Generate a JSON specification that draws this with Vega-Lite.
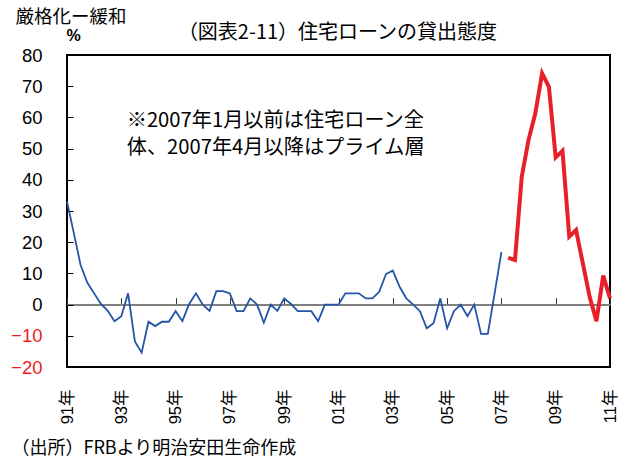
{
  "$schema": "https://vega.github.io/schema/vega-lite/v6.json",
  "autosize": "none",
  "width": 543,
  "height": 312,
  "padding": {"left": 67, "top": 55, "right": 17, "bottom": 90},
  "background": "white",
  "config": {
    "view": {"stroke": "#000000", "strokeWidth": 2},
    "font": "Noto Sans CJK JP"
  },
  "title": {
    "text": "（図表2-11）住宅ローンの貸出態度",
    "font": "Noto Sans CJK JP",
    "fontSize": 20,
    "fontWeight": "normal",
    "color": "#000000",
    "anchor": "middle",
    "frame": "group",
    "baseline": "bottom",
    "offset": 8,
    "dx": -1,
    "dy": 64
  },
  "data": {
    "values": [
      {"t": 1991.00, "v": 33.0, "s": "all"},
      {"t": 1991.25, "v": 23.0, "s": "all"},
      {"t": 1991.50, "v": 12.7, "s": "all"},
      {"t": 1991.75, "v": 7.0, "s": "all"},
      {"t": 1992.00, "v": 3.6, "s": "all"},
      {"t": 1992.25, "v": 0.2, "s": "all"},
      {"t": 1992.50, "v": -2.0, "s": "all"},
      {"t": 1992.75, "v": -5.3, "s": "all"},
      {"t": 1993.00, "v": -3.7, "s": "all"},
      {"t": 1993.25, "v": 3.6, "s": "all"},
      {"t": 1993.50, "v": -11.8, "s": "all"},
      {"t": 1993.75, "v": -15.4, "s": "all"},
      {"t": 1994.00, "v": -5.5, "s": "all"},
      {"t": 1994.25, "v": -6.9, "s": "all"},
      {"t": 1994.50, "v": -5.5, "s": "all"},
      {"t": 1994.75, "v": -5.5, "s": "all"},
      {"t": 1995.00, "v": -2.1, "s": "all"},
      {"t": 1995.25, "v": -5.3, "s": "all"},
      {"t": 1995.50, "v": 0.2, "s": "all"},
      {"t": 1995.75, "v": 3.6, "s": "all"},
      {"t": 1996.00, "v": 0.0, "s": "all"},
      {"t": 1996.25, "v": -2.0, "s": "all"},
      {"t": 1996.50, "v": 4.3, "s": "all"},
      {"t": 1996.75, "v": 4.3, "s": "all"},
      {"t": 1997.00, "v": 3.6, "s": "all"},
      {"t": 1997.25, "v": -2.1, "s": "all"},
      {"t": 1997.50, "v": -2.1, "s": "all"},
      {"t": 1997.75, "v": 2.0, "s": "all"},
      {"t": 1998.00, "v": 0.0, "s": "all"},
      {"t": 1998.25, "v": -5.8, "s": "all"},
      {"t": 1998.50, "v": 0.0, "s": "all"},
      {"t": 1998.75, "v": -2.0, "s": "all"},
      {"t": 1999.00, "v": 2.0, "s": "all"},
      {"t": 1999.25, "v": 0.2, "s": "all"},
      {"t": 1999.50, "v": -2.1, "s": "all"},
      {"t": 1999.75, "v": -2.1, "s": "all"},
      {"t": 2000.00, "v": -2.1, "s": "all"},
      {"t": 2000.25, "v": -5.3, "s": "all"},
      {"t": 2000.50, "v": 0.0, "s": "all"},
      {"t": 2000.75, "v": 0.0, "s": "all"},
      {"t": 2001.00, "v": 0.0, "s": "all"},
      {"t": 2001.25, "v": 3.6, "s": "all"},
      {"t": 2001.50, "v": 3.6, "s": "all"},
      {"t": 2001.75, "v": 3.6, "s": "all"},
      {"t": 2002.00, "v": 2.0, "s": "all"},
      {"t": 2002.25, "v": 2.0, "s": "all"},
      {"t": 2002.50, "v": 4.1, "s": "all"},
      {"t": 2002.75, "v": 9.8, "s": "all"},
      {"t": 2003.00, "v": 10.9, "s": "all"},
      {"t": 2003.25, "v": 5.7, "s": "all"},
      {"t": 2003.50, "v": 2.0, "s": "all"},
      {"t": 2003.75, "v": 0.0, "s": "all"},
      {"t": 2004.00, "v": -2.1, "s": "all"},
      {"t": 2004.25, "v": -7.6, "s": "all"},
      {"t": 2004.50, "v": -6.0, "s": "all"},
      {"t": 2004.75, "v": 2.0, "s": "all"},
      {"t": 2005.00, "v": -7.6, "s": "all"},
      {"t": 2005.25, "v": -2.1, "s": "all"},
      {"t": 2005.50, "v": 0.0, "s": "all"},
      {"t": 2005.75, "v": -3.7, "s": "all"},
      {"t": 2006.00, "v": 0.0, "s": "all"},
      {"t": 2006.25, "v": -9.4, "s": "all"},
      {"t": 2006.50, "v": -9.4, "s": "all"},
      {"t": 2006.75, "v": 3.6, "s": "all"},
      {"t": 2007.00, "v": 16.8, "s": "all"},
      {"t": 2007.25, "v": 15.0, "s": "prime"},
      {"t": 2007.50, "v": 14.3, "s": "prime"},
      {"t": 2007.75, "v": 41.0, "s": "prime"},
      {"t": 2008.00, "v": 52.8, "s": "prime"},
      {"t": 2008.25, "v": 61.3, "s": "prime"},
      {"t": 2008.50, "v": 74.1, "s": "prime"},
      {"t": 2008.75, "v": 69.8, "s": "prime"},
      {"t": 2009.00, "v": 47.2, "s": "prime"},
      {"t": 2009.25, "v": 49.3, "s": "prime"},
      {"t": 2009.50, "v": 21.8, "s": "prime"},
      {"t": 2009.75, "v": 23.9, "s": "prime"},
      {"t": 2010.00, "v": 13.2, "s": "prime"},
      {"t": 2010.25, "v": 2.5, "s": "prime"},
      {"t": 2010.50, "v": -5.3, "s": "prime"},
      {"t": 2010.75, "v": 9.3, "s": "prime"},
      {"t": 2011.00, "v": 2.0, "s": "prime"}
    ]
  },
  "resolve": {"axis": {"x": "independent", "y": "independent"}},
  "layer": [
    {
      "transform": [{"filter": "datum.s === 'all'"}],
      "mark": {"type": "line", "color": "#2454A6", "strokeWidth": 1.8, "clip": false},
      "encoding": {
        "x": {
          "field": "t",
          "type": "quantitative",
          "scale": {"domain": [1991, 2011], "nice": false, "zero": false},
          "axis": {
            "orient": "bottom",
            "values": [1991, 1993, 1995, 1997, 1999, 2001, 2003, 2005, 2007, 2009, 2011],
            "labelExpr": "substring(toString(datum.value), 2) + '年'",
            "labelAngle": -90,
            "labelFont": "Liberation Sans, Noto Sans CJK JP",
            "labelFontSize": 16.5,
            "labelColor": "#000000",
            "labelPadding": 22,
            "labelFlush": false,
            "labelOverlap": false,
            "ticks": false,
            "domain": false,
            "grid": false,
            "title": "（出所）FRBより明治安田生命作成",
            "titleFont": "Noto Sans CJK JP",
            "titleFontSize": 18,
            "titleFontWeight": "normal",
            "titleColor": "#000000",
            "titleAlign": "left",
            "titleAnchor": "start",
            "titleBaseline": "middle",
            "titleX": -56,
            "titleY": 81
          }
        },
        "y": {
          "field": "v",
          "type": "quantitative",
          "scale": {"domain": [-20, 80], "nice": false},
          "axis": {
            "orient": "left",
            "values": [-20, -10, 0, 10, 20, 30, 40, 50, 60, 70, 80],
            "labelFont": "Liberation Sans",
            "labelFontSize": 18.5,
            "labelColor": {"condition": {"test": "datum.value < 0", "value": "#EE1C25"}, "value": "#000000"},
            "labelPadding": 31,
            "tickSize": -6,
            "tickColor": "#000000",
            "tickWidth": 1,
            "domain": false,
            "grid": false,
            "title": "厳格化ー緩和",
            "titleFont": "Noto Sans CJK JP",
            "titleFontSize": 18.5,
            "titleFontWeight": "normal",
            "titleColor": "#000000",
            "titleAngle": 0,
            "titleAlign": "left",
            "titleBaseline": "middle",
            "titleX": -52,
            "titleY": -39
          }
        }
      }
    },
    {
      "transform": [{"filter": "datum.s === 'prime'"}],
      "mark": {"type": "line", "color": "#E8202A", "strokeWidth": 4, "clip": false},
      "encoding": {
        "x": {
          "field": "t",
          "type": "quantitative",
          "axis": {
            "orient": "top",
            "offset": -249.6,
            "values": [1991, 1993, 1995, 1997, 1999, 2001, 2003, 2005, 2007, 2009, 2011],
            "labels": false,
            "ticks": true,
            "tickSize": 7,
            "tickColor": "#333333",
            "tickWidth": 1,
            "domain": true,
            "domainColor": "#808080",
            "domainWidth": 2,
            "grid": false,
            "title": null
          }
        },
        "y": {
          "field": "v",
          "type": "quantitative",
          "axis": {
            "orient": "left",
            "labels": false,
            "ticks": false,
            "domain": false,
            "grid": false,
            "title": "%",
            "titleFont": "Liberation Sans",
            "titleFontSize": 16,
            "titleFontWeight": "bold",
            "titleColor": "#000000",
            "titleAngle": 0,
            "titleAlign": "center",
            "titleBaseline": "middle",
            "titleX": 6,
            "titleY": -20
          }
        }
      }
    },
    {
      "data": {"values": [{"note": "※"}]},
      "mark": {"type": "text", "align": "left", "baseline": "middle", "font": "Noto Sans CJK JP", "fontSize": 20.2, "fontWeight": 400, "lineHeight": 27, "fill": "#000000"},
      "encoding": {
        "x": {"datum": 1993.2, "type": "quantitative", "axis": null},
        "y": {"datum": 58.7, "type": "quantitative", "axis": null},
        "text": {"value": ["※2007年1月以前は住宅ローン全", "体、2007年4月以降はプライム層"]}
      }
    }
  ]
}
